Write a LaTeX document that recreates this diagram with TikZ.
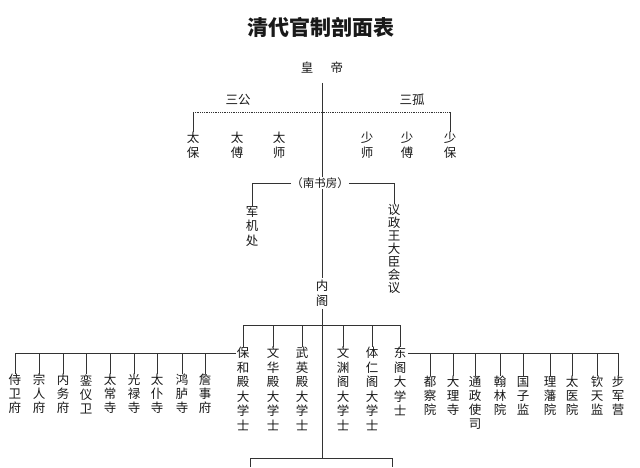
\documentclass[tikz,border=0pt]{standalone}
\usepackage{fontspec}
\newfontfamily\cjk{Noto Sans CJK SC}
\tikzset{
  guan/.style={font=\cjk\fontsize{12.5}{#1}\selectfont,align=center,inner sep=0pt,text=black!90},
  guan/.default=14.5,
  xian/.style={black!80,line width=0.8pt}
}
\begin{document}
\begin{tikzpicture}[x=1pt,y=-1pt]
  \useasboundingbox[fill=white] (0,0) rectangle (640,467);
  \node[font=\cjk\bfseries\fontsize{21}{21}\selectfont,text=black!90] (biao) at (321,27){清代官制剖面表};
  % huangdi, sangong, sangu
  \node[guan] (huangdi) at (322,68){皇\hspace{1.4em}帝};
  \node[guan] (sangong) at (238,100){三公};
  \node[guan] (sangu) at (412,100){三孤};
  \node[guan=15] (taibao) at (193,145.5){太\\保};
  \node[guan=15] (taifu) at (237,145.5){太\\傅};
  \node[guan=15] (taishi) at (279,145.5){太\\师};
  \node[guan=15] (shaoshi) at (367,145.5){少\\师};
  \node[guan=15] (shaofu) at (407,145.5){少\\傅};
  \node[guan=15] (shaobao) at (450,145.5){少\\保};
  \coordinate (gu) at (322,112);
  \draw[xian,densely dotted] (taibao.north|-gu) -- (shaobao.north|-gu);
  \draw[xian] (taibao.north|-gu) -- (taibao.north);
  \draw[xian] (shaobao.north|-gu) -- (shaobao.north);
  % nanshufang
  \node[guan,font=\cjk\fontsize{11.5}{12}\selectfont] (nanshu) at (320,183){（南书房）};
  \node[guan] (junji) at (252,226.5){军\\机\\处};
  \node[guan=13] (yizheng) at (394,249){议\\政\\王\\大\\臣\\会\\议};
  \draw[xian] (nanshu.west) -- (junji.north|-nanshu) -- (junji.north);
  \draw[xian] (nanshu.east) -- (yizheng.north|-nanshu) -- (yizheng.north);
  \draw[xian,shorten <=9pt] (huangdi.south) -- (huangdi.south|-nanshu.north);
  % neige
  \node[guan=15,inner sep=2pt] (neige) at (322,293.5){内\\阁};
  \draw[xian] (neige.north|-nanshu.south) -- (neige.north);
  \coordinate (xia) at (322,458);
  \draw[xian] (neige.south) -- (xia);
  \draw[xian] (250,467) -- (250,458) -- (392,458) -- (392,467);
  % da xueshi
  \node[guan] (baohe) at (243,389){保\\和\\殿\\大\\学\\士};
  \node[guan] (wenhua) at (273,389){文\\华\\殿\\大\\学\\士};
  \node[guan] (wuying) at (302,389){武\\英\\殿\\大\\学\\士};
  \node[guan] (wenyuan) at (343,389){文\\渊\\阁\\大\\学\\士};
  \node[guan] (tiren) at (372,389){体\\仁\\阁\\大\\学\\士};
  \node[guan] (dongge) at (400,381.5){东\\阁\\大\\学\\士};
  \coordinate (ge) at (322,325);
  \draw[xian] (baohe.north|-ge) -- (dongge.north|-ge);
  \foreach \n in {baohe,wenhua,wuying,wenyuan,tiren,dongge}
    \draw[xian] (\n.north|-ge) -- (\n.north);
  % zuo: fu, si
  \node[guan=14] (shiweifu) at (15,394){侍\\卫\\府};
  \node[guan=14] (zongrenfu) at (39,394){宗\\人\\府};
  \node[guan=14] (neiwufu) at (63,394){内\\务\\府};
  \node[guan=14] (luanyiwei) at (86,394){銮\\仪\\卫};
  \node[guan=14] (taichangsi) at (110,394){太\\常\\寺};
  \node[guan=14] (guanglusi) at (134,394){光\\禄\\寺};
  \node[guan=14] (taipusi) at (157,394){太\\仆\\寺};
  \node[guan=14] (honglusi) at (182,394){鸿\\胪\\寺};
  \node[guan=14] (zhanshifu) at (205,394){詹\\事\\府};
  \coordinate (zuo) at (236,353);
  \draw[xian] (zuo) -- (shiweifu.north|-zuo);
  \foreach \n in {shiweifu,zongrenfu,neiwufu,luanyiwei,taichangsi,guanglusi,taipusi,honglusi,zhanshifu}
    \draw[xian] (\n.north|-zuo) -- (\n.north);
  % you: yuan, si, jian
  \node[guan=14] (duchayuan) at (430,396){都\\察\\院};
  \node[guan=14] (dalisi) at (453,396){大\\理\\寺};
  \node[guan=14] (tongzhengsi) at (475,403){通\\政\\使\\司};
  \node[guan=14] (hanlinyuan) at (500,396){翰\\林\\院};
  \node[guan=14] (guozijian) at (523,396){国\\子\\监};
  \node[guan=14] (lifanyuan) at (550,396){理\\藩\\院};
  \node[guan=14] (taiyiyuan) at (572,396){太\\医\\院};
  \node[guan=14] (qintianjian) at (597,396){钦\\天\\监};
  \node[guan=14] (bujunying) at (618,396){步\\军\\营};
  \coordinate (you) at (408,353);
  \draw[xian] (you) -- (bujunying.north|-you);
  \foreach \n in {duchayuan,dalisi,tongzhengsi,hanlinyuan,guozijian,lifanyuan,taiyiyuan,qintianjian,bujunying}
    \draw[xian] (\n.north|-you) -- (\n.north);
\end{tikzpicture}
\end{document}
